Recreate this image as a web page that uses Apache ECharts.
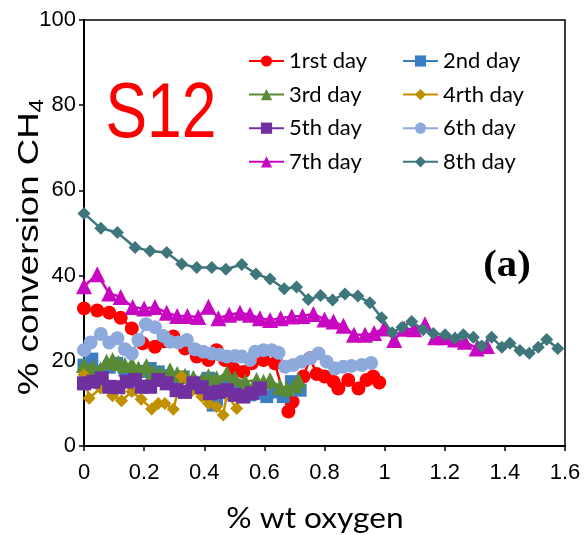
<!DOCTYPE html>
<html>
<head>
<meta charset="utf-8">
<script src="https://cdn.jsdelivr.net/npm/echarts@6/dist/echarts.min.js"></script>
<style>
  html, body { margin: 0; padding: 0; background: #fff; }
  #chart { width: 585px; height: 535px; }
</style>
</head>
<body>
<div id="chart"></div>
<script>
// Methane conversion vs. oxygen content, sample S12, one series per day
const seriesNames = ['1rst day', '2nd day', '3rd day', '4rth day', '5th day', '6th day', '7th day', '8th day'];

const xTicks = [0, 0.2, 0.4, 0.6, 0.8, 1, 1.2, 1.4, 1.6];
const yTicks = [0, 20, 40, 60, 80, 100];

const day1 = [[0,32.3],[0.044,31.8],[0.084,31.3],[0.122,30.1],[0.159,27.6],[0.195,24.1],[0.236,23.3],[0.267,24.6],[0.297,25.7],
  [0.336,22.9],[0.375,21.0],[0.414,20.2],[0.441,22.5],[0.469,20.2],[0.497,18.2],[0.53,17.4],[0.558,19.4],[0.597,20.2],
  [0.635,19.4],[0.68,8.1],[0.694,10.4],[0.73,16.3],[0.752,20.6],[0.774,16.9],[0.8,16.3],[0.83,15.1],[0.846,13.5],
  [0.879,15.5],[0.913,13.5],[0.94,15.5],[0.962,16.3],[0.982,14.9]];

const day2 = [[0,19.0],[0.026,20.4],[0.055,17.5],[0.084,18.5],[0.109,19.4],[0.136,17.8],[0.164,16.9],[0.192,17.5],
  [0.22,18.2],[0.247,17.4],[0.275,16.5],[0.303,15.8],[0.33,16.2],[0.358,15.0],[0.386,14.6],[0.414,15.9],[0.43,9.6],
  [0.441,11.0],[0.469,14.0],[0.497,13.2],[0.525,13.9],[0.552,12.0],[0.58,12.4],[0.608,11.6],[0.636,12.7],[0.663,11.6],
  [0.69,15.1],[0.719,13.1]];

const day3 = [[0,19.0],[0.03,18.5],[0.055,18.0],[0.075,19.8],[0.095,20.2],[0.115,19.5],[0.136,19.0],[0.159,19.2],
  [0.181,18.2],[0.208,18.8],[0.23,17.4],[0.253,17.1],[0.286,17.8],[0.31,16.9],[0.336,16.5],[0.364,16.0],[0.392,15.5],
  [0.414,16.4],[0.441,15.9],[0.475,17.1],[0.502,15.9],[0.536,15.1],[0.574,15.5],[0.597,15.1],[0.619,15.5],[0.652,13.9],
  [0.675,13.5],[0.702,14.3],[0.713,15.5]];

const day4 = [[0,16.7],[0.017,11.2],[0.055,13.6],[0.095,11.8],[0.125,10.6],[0.159,12.8],[0.19,11.0],[0.225,8.7],
  [0.247,10.0],[0.269,10.0],[0.297,8.6],[0.325,16.3],[0.36,13.0],[0.392,11.6],[0.414,10.0],[0.441,9.2],[0.463,7.3],
  [0.475,12.0],[0.508,8.8]];

const day5 = [[0,14.7],[0.031,15.1],[0.059,15.9],[0.084,13.9],[0.114,13.8],[0.142,15.1],[0.17,15.5],[0.192,13.9],
  [0.22,13.9],[0.247,15.5],[0.275,14.7],[0.308,13.1],[0.336,12.7],[0.364,14.7],[0.392,13.8],[0.419,12.4],[0.447,12.7],
  [0.475,13.1],[0.502,12.0],[0.53,11.6],[0.558,12.4],[0.585,13.5]];

const day6 = [[0,22.5],[0.022,24.3],[0.056,26.3],[0.084,24.3],[0.111,25.3],[0.136,22.7],[0.159,21.7],[0.181,24.9],
  [0.206,28.6],[0.236,27.9],[0.264,25.8],[0.286,24.5],[0.314,24.3],[0.342,24.9],[0.369,22.7],[0.397,22.1],[0.425,21.7],
  [0.452,21.4],[0.475,21.0],[0.502,21.1],[0.525,21.0],[0.552,20.2],[0.569,22.1],[0.597,22.5],[0.624,22.5],[0.647,21.9],
  [0.669,18.6],[0.696,19.0],[0.724,19.8],[0.752,20.6],[0.78,21.7],[0.807,19.8],[0.835,18.2],[0.863,18.6],[0.89,18.8],
  [0.924,19.0],[0.955,19.5]];

const day7 = [[0,37.5],[0.044,40.3],[0.084,35.8],[0.122,35.0],[0.162,32.6],[0.2,32.3],[0.236,32.6],[0.275,31.3],
  [0.31,30.5],[0.344,30.5],[0.38,30.3],[0.414,32.7],[0.447,30.0],[0.483,30.8],[0.519,31.3],[0.552,30.8],[0.585,30.0],
  [0.619,29.6],[0.654,30.0],[0.691,30.4],[0.727,30.5],[0.763,31.0],[0.8,29.7],[0.83,29.2],[0.863,28.2],[0.898,26.1],
  [0.935,26.1],[0.965,26.5],[0.998,27.6],[1.032,24.9],[1.065,27.5],[1.098,27.4],[1.134,28.6],[1.168,25.5],[1.2,25.5],
  [1.234,25.0],[1.267,24.5],[1.306,22.9],[1.34,23.5]];

const day8 = [[0,54.6],[0.056,51.1],[0.111,50.1],[0.17,46.6],[0.22,45.8],[0.275,45.4],[0.325,42.7],[0.375,41.9],
  [0.425,41.9],[0.472,41.5],[0.525,42.6],[0.572,40.4],[0.619,39.2],[0.666,36.9],[0.707,37.3],[0.746,34.4],[0.787,35.3],
  [0.827,34.3],[0.868,35.7],[0.911,35.2],[0.951,33.6],[0.99,30.1],[1.025,26.6],[1.058,27.9],[1.09,29.2],[1.128,27.3],
  [1.162,26.4],[1.201,26.1],[1.234,25.3],[1.262,26.1],[1.295,25.5],[1.323,23.5],[1.356,25.5],[1.39,23.2],[1.417,24.1],
  [1.45,22.4],[1.481,21.8],[1.511,23.2],[1.539,25.0],[1.576,22.9]];

const seriesData = [day1, day2, day3, day4, day5, day6, day7, day8];
const seriesColors = ['#FF0000', '#3B7EC1', '#5A8A35', '#C09000', '#7030A0', '#8EAADC', '#C808C0', '#3F767B'];
const seriesSymbols = ['circle', 'rect', 'triangle', 'diamond', 'rect', 'circle', 'triangle', 'diamond'];
const symbolSizes = [14, 13, 16, 13, 14, 14, 16, 13];

const chart = echarts.init(document.getElementById('chart'), null, { renderer: 'canvas' });

const series = seriesNames.map((name, i) => ({
  name: name,
  type: 'line',
  data: seriesData[i],
  symbol: seriesSymbols[i],
  symbolSize: symbolSizes[i],
  showAllSymbol: true,
  color: seriesColors[i],
  lineStyle: { width: 2.5, color: seriesColors[i] },
  itemStyle: { color: seriesColors[i], borderWidth: 0 },
  emphasis: { disabled: true },
  animation: false,
  z: 2 + i
}));

const legendText = { fontFamily: 'Lato', fontSize: 22, color: '#000', lineHeight: 20 };

chart.setOption({
  backgroundColor: '#fff',
  animation: false,
  grid: {
    left: 84, right: 20, top: 20, bottom: 89,
    show: true, borderColor: '#000', borderWidth: 1.5, backgroundColor: 'transparent'
  },
  legend: [
    {
      data: [seriesNames[0], seriesNames[2], seriesNames[4], seriesNames[6]],
      orient: 'vertical', left: 248, top: 50, padding: 0, itemWidth: 35, itemHeight: 14, itemGap: 11.6,
      textStyle: legendText, selectedMode: false
    },
    {
      data: [seriesNames[1], seriesNames[3], seriesNames[5], seriesNames[7]],
      orient: 'vertical', left: 402, top: 50, padding: 0, itemWidth: 35, itemHeight: 14, itemGap: 11.6,
      textStyle: legendText, selectedMode: false
    }
  ],
  xAxis: {
    type: 'value', min: xTicks[0], max: xTicks[xTicks.length - 1], interval: 0.2,
    axisLine: { show: true, onZero: false, lineStyle: { color: '#000', width: 2 } },
    axisTick: { show: true, length: 5, inside: false, lineStyle: { color: '#000', width: 1.5 } },
    axisLabel: { fontFamily: 'Liberation Sans', fontSize: 22, color: '#000', margin: 16,
      formatter: v => String(Math.round(v * 10) / 10) },
    splitLine: { show: false }
  },
  yAxis: {
    type: 'value', min: yTicks[0], max: yTicks[yTicks.length - 1], interval: 20,
    axisLine: { show: true, onZero: false, lineStyle: { color: '#000', width: 2 } },
    axisTick: { show: true, length: 5, inside: false, lineStyle: { color: '#000', width: 1.5 } },
    axisLabel: { fontFamily: 'Liberation Sans', fontSize: 22, color: '#000', margin: 8 },
    splitLine: { show: false }
  },
  graphic: [
    {
      type: 'text', x: 30, y: 247, rotation: Math.PI / 2, scaleX: 1.22,
      style: {
        text: '{a|% conversion CH}{b|4}',
        align: 'center', verticalAlign: 'middle', fill: '#000',
        rich: {
          a: { fontFamily: 'Liberation Sans', fontSize: 30, lineHeight: 36, fill: '#000' },
          b: { fontFamily: 'Liberation Sans', fontSize: 20, lineHeight: 36, fill: '#000', padding: [14, 0, 0, 0] }
        }
      }
    },
    {
      type: 'text', x: 315, y: 519, scaleX: 1.13,
      style: { text: '% wt oxygen', fontFamily: 'Lato', fontSize: 28, fill: '#000', align: 'center', verticalAlign: 'middle' }
    },
    {
      type: 'text', x: 161, y: 115, scaleX: 0.8,
      style: { text: 'S12', fontFamily: 'Liberation Sans', fontSize: 78, fill: '#FF0000', align: 'center', verticalAlign: 'middle' }
    },
    {
      type: 'text', x: 507, y: 266, scaleX: 1.1,
      style: { text: '(a)', fontFamily: 'Liberation Serif', fontWeight: 'bold', fontSize: 37, fill: '#000', align: 'center', verticalAlign: 'middle' }
    }
  ],
  series: series
});
</script>
</body>
</html>
